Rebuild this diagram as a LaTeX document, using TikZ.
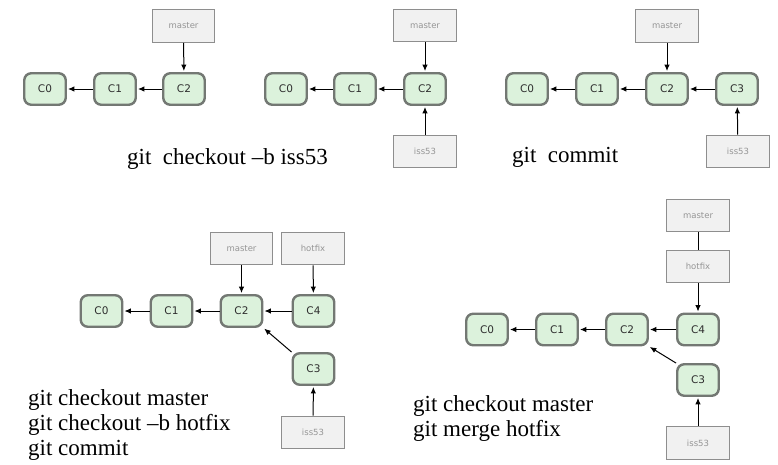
\documentclass[tikz,border=0pt]{standalone}
\usepackage{fontspec}
\usetikzlibrary{arrows.meta}
\newfontfamily\labfont{DejaVu Sans}
\newfontfamily\capfont{Liberation Serif}
\definecolor{cfill}{HTML}{DCF2DC}
\definecolor{cborder}{HTML}{737873}
\definecolor{ctext}{HTML}{2E2E2E}
\definecolor{bfill}{HTML}{F1F1F1}
\definecolor{bborder}{HTML}{8E8E8E}
\definecolor{btext}{HTML}{959595}
\tikzset{
  commit/.style={draw=cborder, fill=cfill, line width=2.4pt, rounded corners=7pt,
    minimum width=41.5pt, minimum height=31.5pt, inner sep=0pt,
    font=\labfont\fontsize{10.5}{12}\selectfont, text=ctext},
  branch/.style={draw=bborder, fill=bfill, line width=1.3pt,
    minimum width=62.5pt, minimum height=32.5pt, inner sep=0pt,
    font=\labfont\fontsize{8.5}{10}\selectfont, text=btext},
  parent/.style={-{Latex[length=6.5pt,width=5.5pt]}, line width=1pt, shorten >=1pt},
  tie/.style={line width=1pt},
  cmd/.style={anchor=base west, inner sep=0pt, font=\capfont\fontsize{23}{26}\selectfont}
}
\begin{document}
\begin{tikzpicture}[x=1pt, y=-1pt]
\useasboundingbox (0,0) rectangle (778,464);

% first state: master on C2
\node[branch] (am) at (183.5,26) {master};
\node[commit] (a0) at (45,89) {C0};
\node[commit] (a1) at (115,89) {C1};
\node[commit] (a2) at (184,89) {C2};
\draw[parent] (a1) -- (a0);
\draw[parent] (a2) -- (a1);
\draw[parent] (am) -- (a2);

% new branch iss53
\node[branch] (bm) at (425,25.5) {master};
\node[commit] (b0) at (286,89) {C0};
\node[commit] (b1) at (355,89) {C1};
\node[commit] (b2) at (425,89) {C2};
\node[branch] (bi) at (425,151.5) {iss53};
\draw[parent] (b1) -- (b0);
\draw[parent] (b2) -- (b1);
\draw[parent] (bm) -- (b2);
\draw[parent] (bi) -- (b2);
\node[cmd] (bt) at (127,164) {git\ \ checkout –b iss53};

% commit on iss53
\node[branch] (cm) at (667,26) {master};
\node[commit] (c0) at (527,89) {C0};
\node[commit] (c1) at (597,89) {C1};
\node[commit] (c2) at (667,89) {C2};
\node[commit] (c3) at (737,89) {C3};
\node[branch] (ci) at (738,151.5) {iss53};
\draw[parent] (c1) -- (c0);
\draw[parent] (c2) -- (c1);
\draw[parent] (c3) -- (c2);
\draw[parent] (cm) -- (c2);
\draw[parent] (ci) -- (c3);
\node[cmd] (ct) at (512,162) {git\ \ commit};

% hotfix branch
\node[branch] (dm) at (241.5,248.5) {master};
\node[branch] (dh) at (313,248.5) {hotfix};
\node[commit] (d0) at (101.5,311) {C0};
\node[commit] (d1) at (171.5,311) {C1};
\node[commit] (d2) at (241.5,311) {C2};
\node[commit] (d4) at (313.5,311) {C4};
\node[commit] (d3) at (313.5,369) {C3};
\node[branch] (di) at (313,432.5) {iss53};
\draw[parent] (d1) -- (d0);
\draw[parent] (d2) -- (d1);
\draw[parent] (d4) -- (d2);
\draw[parent] (d3.north west) -- (d2.south east);
\draw[parent] (dm) -- (d2);
\draw[parent] (dh) -- (d4);
\draw[parent] (di) -- (d3);
\node[cmd] (dt1) at (28,405) {git checkout master};
\node[cmd] (dt2) at (28,430) {git checkout –b hotfix};
\node[cmd] (dt3) at (28,455) {git commit};

% fast-forward merge
\node[branch] (em) at (698,215.5) {master};
\node[branch] (eh) at (698,266.5) {hotfix};
\node[commit] (e0) at (487,329.5) {C0};
\node[commit] (e1) at (557,329.5) {C1};
\node[commit] (e2) at (627,329.5) {C2};
\node[commit] (e4) at (698,329.5) {C4};
\node[commit] (e3) at (698,380) {C3};
\node[branch] (ei) at (698,443) {iss53};
\draw[parent] (e1) -- (e0);
\draw[parent] (e2) -- (e1);
\draw[parent] (e4) -- (e2);
\draw[parent] (e3.north west) -- (e2.south east);
\draw[tie] (em) -- (eh);
\draw[parent] (eh) -- (e4);
\draw[parent] (ei) -- (e3);
\node[cmd] (et1) at (413,411) {git checkout master};
\node[cmd] (et2) at (413,436) {git merge hotfix};
\end{tikzpicture}
\end{document}
